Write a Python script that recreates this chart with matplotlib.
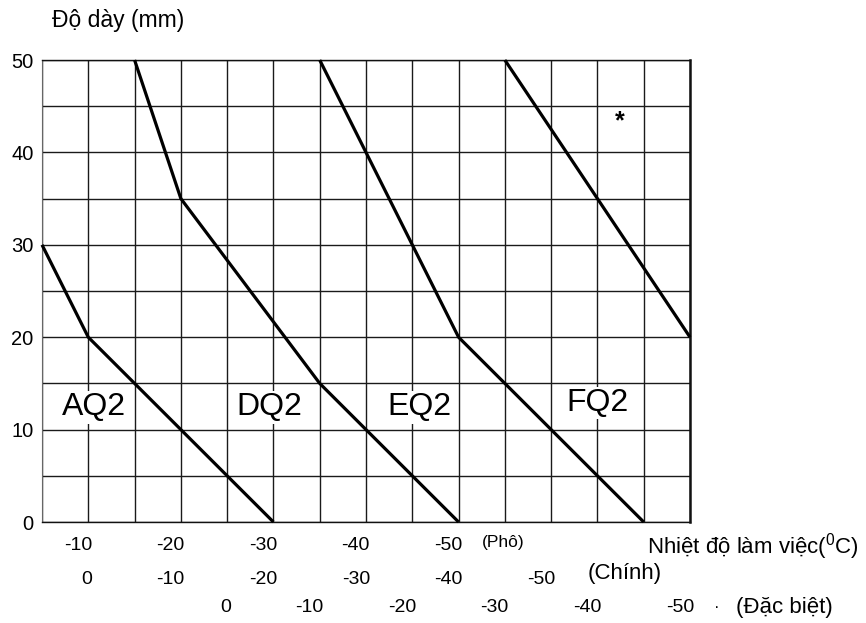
import numpy as np
import matplotlib.pyplot as plt
from matplotlib.transforms import blended_transform_factory, offset_copy

plt.rcParams['font.family'] = ['Liberation Sans', 'DejaVu Sans']
plt.rcParams['mathtext.default'] = 'regular'

# x = nhiet do theo thang "Pho" (oC), y = do day (mm)
aq2_t = [-5, -10, -30]
aq2_mm = [30, 20, 0]
dq2_t = [-15, -20, -35, -50]
dq2_mm = [50, 35, 15, 0]
eq2_t = [-35, -50, -70]
eq2_mm = [50, 20, 0]
fq2_t = [-55, -75]
fq2_mm = [50, 20]

grade_names = ['AQ2', 'DQ2', 'EQ2', 'FQ2']
grade_t = [-10.6, -29.6, -45.8, -65.0]
grade_mm = [12.4, 12.4, 12.4, 12.9]

pho_ticks = [-10, -20, -30, -40, -50]
chinh_ticks = [0, -10, -20, -30, -40, -50]
dacbiet_ticks = [0, -10, -20, -30, -40, -50]
chinh_shift = -10     # Chinh 0 nam tai Pho -10
dacbiet_shift = -25   # Dac biet 0 nam tai Pho -25

thickness_ticks = [0, 10, 20, 30, 40, 50]

fig = plt.figure(figsize=(8.66, 6.23), dpi=100)
ax = fig.add_axes([42/866, 1 - 522/623, 648/866, 462/623])

ax.set_xlim(-5, -75)
ax.set_ylim(0, 50)

# luoi 5 x 5
ax.set_xticks(np.arange(-5, -80, -5))
ax.set_xticklabels([])
ax.set_yticks(thickness_ticks)
ax.set_yticks(np.arange(5, 50, 10), minor=True)
ax.set_yticklabels([str(v) for v in thickness_ticks], fontsize=14.5)
ax.tick_params(which='both', length=0)
ax.tick_params(axis='y', pad=6)
ax.grid(True, which='both', color='#1a1a1a', lw=1.0)

for s in ['top', 'bottom']:
    ax.spines[s].set_color('#111111')
    ax.spines[s].set_linewidth(1.0)
ax.spines['right'].set_color('#111111')
ax.spines['right'].set_linewidth(1.8)
ax.spines['left'].set_color('#666666')
ax.spines['left'].set_linewidth(0.8)

for t, mm in [(aq2_t, aq2_mm), (dq2_t, dq2_mm), (eq2_t, eq2_mm), (fq2_t, fq2_mm)]:
    ax.plot(t, mm, color='black', lw=2.3, solid_capstyle='butt', clip_on=False, zorder=3)

for name, t, mm in zip(grade_names, grade_t, grade_mm):
    ax.text(t, mm, name, fontsize=23, ha='center', va='center', zorder=4,
            bbox=dict(facecolor='white', edgecolor='none', pad=1))

ax.text(-67.4, 43.4, '*', fontsize=18, fontweight='bold', ha='center', va='center')

# ba hang nhan nhiet do
tr = blended_transform_factory(ax.transData, ax.transAxes)
rows = [(pho_ticks, 0, 23), (chinh_ticks, chinh_shift, 58), (dacbiet_ticks, dacbiet_shift, 86)]
for ticks, shift, dy in rows:
    tt = offset_copy(tr, fig=fig, x=4, y=-dy, units='dots')
    for v in ticks:
        ax.text(v + shift, 0, str(v), transform=tt, fontsize=14,
                ha='right', va='center', clip_on=False)

ft = fig.transFigure
ax.text(503/866, 1 - 543/623, '(Phô)', transform=ft, fontsize=12.5, ha='center', va='center')
ax.text(625/866, 1 - 574/623, '(Chính)', transform=ft, fontsize=16, ha='center', va='center')
ax.text(784/866, 1 - 608/623, '(Đặc biệt)', transform=ft, fontsize=16, ha='center', va='center')
ax.text(717/866, 1 - 607/623, '·', transform=ft, fontsize=12, ha='center', va='center')
ax.text(647/866, 1 - 547/623, 'Nhiệt độ làm việc($^{0}$C)', transform=ft,
        fontsize=16, ha='left', va='center')
ax.text(52/866, 1 - 20/623, 'Độ dày (mm)', transform=ft, fontsize=16.5, ha='left', va='center')

fig.savefig('out.png', dpi=100)
